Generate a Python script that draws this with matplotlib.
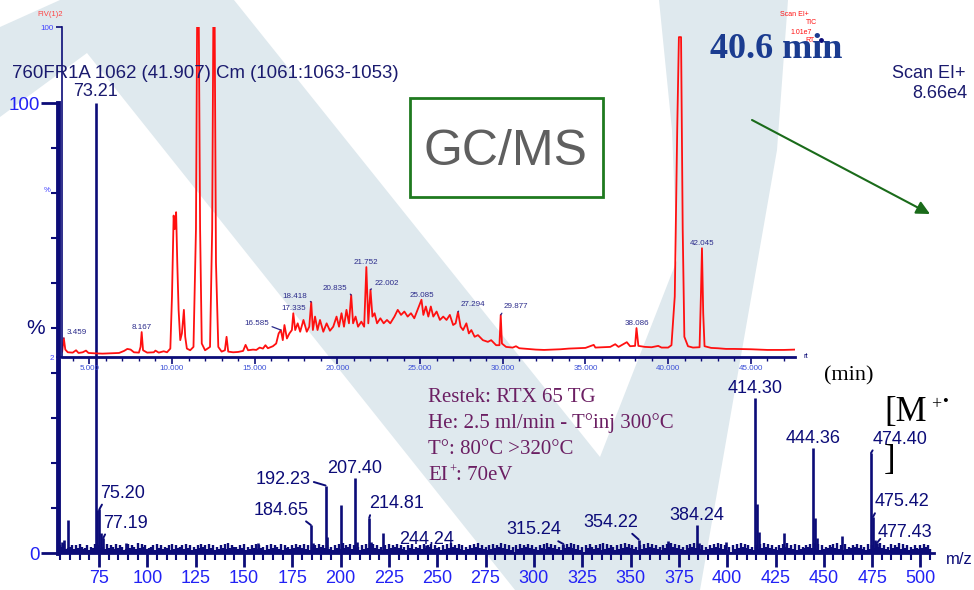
import numpy as np
import matplotlib
matplotlib.use('Agg')
import matplotlib.pyplot as plt
from matplotlib.patches import Polygon, Rectangle, Arc
from matplotlib.ticker import MultipleLocator

plt.rcParams['font.family'] = ['Liberation Sans', 'DejaVu Sans']

# ---------------- data ----------------
# Mass spectrum (scan 1062, 41.907 min)
ms_mz = [56.0, 57.0, 59.1, 73.21, 74.2, 75.20, 76.2, 77.19, 89.0, 157.5,
         184.65, 185.6, 192.23, 193.2, 200.1, 207.40, 208.4, 214.81, 215.8, 222.0,
         244.24, 315.24, 354.22, 369.5, 370.5, 384.24, 385.2, 399.5,
         414.30, 415.30, 416.30, 429.5, 444.36, 445.36, 446.36, 459.4,
         474.40, 475.42, 476.42, 477.43]
ms_int = [2.5, 3.0, 7.3, 100.0, 9.5, 9.7, 4.5, 3.3, 2.2, 2.3,
          6.2, 2.2, 15.0, 3.5, 10.7, 16.7, 2.5, 7.8, 2.5, 4.5,
          1.8, 2.0, 3.0, 2.6, 2.2, 6.2, 2.2, 2.5,
          34.4, 11.0, 4.7, 4.5, 23.3, 7.8, 3.4, 3.7,
          22.2, 8.0, 3.0, 2.2]
ms_label_mz = [75.20, 77.19, 184.65, 192.23, 207.40, 214.81, 244.24, 315.24,
               354.22, 384.24, 414.30, 444.36, 474.40, 475.42, 477.43]
# background noise, one digit per m/z unit starting at m/z 54 (digit * noise_scale %)
noise_start = 54
noise_digits = ("4657345636475346254736453746537465237465384756"
                "3456274635462736456374625364756374625364738465"
                "5364725364736452637465372645364756473625364756"
                "4635264738465736452637485746352637465746352647"
                "3546374657364526374856473625364758463526374658"
                "4736251637465746352647385746352647584736251647"
                "5364728374652637485746352637485746352647385746"
                "3526475847362536475847362516374857463526374857"
                "4635264758463726354657483726354657483627354657"
                "46352736475846352746583746253643647563")
noise_scale = 0.28
ms_xticks = [75, 100, 125, 150, 175, 200, 225, 250, 275, 300, 325, 350, 375,
             400, 425, 450, 475, 500]

# TIC chromatogram (inset)
gc_time = [3.36, 3.459, 3.55, 3.7, 4.0, 4.2, 4.35, 4.6, 4.8, 4.95, 5.3, 5.8, 6.3, 6.8,
           7.1, 7.3, 7.5, 7.7, 8.0, 8.1, 8.167, 8.25, 8.5, 8.9, 9.0, 9.2, 9.5, 9.7,
           9.9, 10.0, 10.1, 10.17, 10.25, 10.32, 10.4, 10.5, 10.6, 10.72, 10.8, 10.9,
           11.1, 11.3, 11.45, 11.52, 11.62, 11.7, 11.8, 12.0, 12.3, 12.43, 12.5, 12.58,
           12.66, 12.8, 13.0, 13.2, 13.3, 13.4, 13.7, 14.0, 14.3, 14.45, 14.6, 14.9,
           15.1, 15.3, 15.5, 15.65, 15.8, 16.1, 16.3, 16.45, 16.585, 16.7, 16.8, 16.95,
           17.1, 17.25, 17.335, 17.45, 17.6, 17.75, 17.95, 18.15, 18.3, 18.418, 18.52,
           18.65, 18.8, 18.95, 19.15, 19.35, 19.55, 19.75, 19.95, 20.1, 20.25, 20.4,
           20.55, 20.7, 20.835, 20.95, 21.1, 21.25, 21.45, 21.62, 21.752, 21.87, 22.002,
           22.12, 22.25, 22.4, 22.6, 22.8, 23.0, 23.2, 23.45, 23.65, 23.85, 24.05, 24.25,
           24.45, 24.65, 24.85, 25.085, 25.2, 25.35, 25.5, 25.65, 25.8, 26.0, 26.2, 26.4,
           26.6, 26.8, 27.0, 27.15, 27.294, 27.45, 27.6, 27.8, 27.95, 28.1, 28.3, 28.5,
           28.8, 29.1, 29.3, 29.6, 29.8, 29.877, 29.95, 30.2, 30.6, 30.8, 31.0, 31.5,
           32.0, 32.5, 33.0, 33.5, 34.0, 34.5, 35.0, 35.5, 35.6, 36.0, 36.5, 36.8, 37.0,
           37.5, 37.7, 38.0, 38.086, 38.2, 38.6, 39.0, 39.4, 39.6, 40.0, 40.2, 40.4,
           40.55, 40.65, 40.78, 40.88, 40.98, 41.2, 41.5, 41.9, 41.98, 42.045, 42.12,
           42.2, 42.6, 43.0, 43.5, 44.0, 45.0, 46.0, 47.0, 47.67]
gc_signal = [3.6, 7.6, 4.2, 3.4, 3.3, 4.0, 3.2, 3.4, 3.9, 3.2, 3.1, 3.0, 3.1, 3.2,
             3.8, 4.4, 4.2, 3.4, 3.3, 5.0, 9.4, 4.0, 3.3, 3.4, 3.9, 3.3, 3.7, 3.4,
             4.5, 20, 44, 40, 45, 30, 16, 7, 9, 16, 8, 4.5,
             4.0, 5.0, 40, 102, 102, 40, 6, 4.0, 5.0, 40, 102, 102,
             30, 5, 3.6, 4, 8, 3.6, 3.4, 3.5, 3.8, 5.6, 4.0, 4.2,
             4.1, 4.8, 4.5, 5.5, 4.6, 5.2, 6.0, 9, 10, 7, 11.5, 7.5,
             9, 10, 15.0, 10, 12, 9.5, 13, 9.5, 11, 18.3, 10,
             14, 10, 13, 9.5, 12, 9.8, 11, 14, 11, 15, 11,
             16, 12, 20.4, 12, 14, 11, 12.5, 11, 28.7, 12, 22,
             14, 15, 12, 13.5, 12, 13, 12, 14, 16, 14.5, 15.5, 14,
             15, 13.5, 16, 19, 14.5, 17, 14, 17, 14, 15.5, 13, 14,
             13, 14.5, 11.5, 12, 15.4, 11, 10, 12, 9, 10, 8, 8.5,
             7, 6.5, 7, 5.5, 5.5, 14.5, 6, 5, 4.8, 5.2, 4.6, 4.4,
             4.2, 4.1, 4.2, 4.3, 4.5, 4.6, 4.7, 5.6, 4.8, 4.9, 5.0, 5.8, 5.0,
             6.4, 5.2, 5.3, 10.6, 5.3, 5.0, 4.9, 5.3, 4.8, 4.8, 5.5, 20,
             70, 97, 97, 40, 8, 5.2, 4.8, 4.9, 20, 34.3, 15,
             5.2, 4.7, 4.6, 4.4, 4.4, 4.3, 4.1, 4.1, 4.2]
gc_label_t = [3.459, 8.167, 16.585, 17.335, 18.418, 20.835, 21.752, 22.002,
              25.085, 27.294, 29.877, 38.086, 42.045]
gc_xticks = [5, 10, 15, 20, 25, 30, 35, 40, 45]

# ---------------- styling ----------------
W, H = 974, 590
NAVY = '#0c0c78'
BLUE = '#2222f5'
RED = '#ff1010'
fig = plt.figure(figsize=(W / 100, H / 100), dpi=100)

# background watermark
bg = fig.add_axes([0, 0, 1, 1], zorder=0)
bg.set_xlim(0, W); bg.set_ylim(H, 0); bg.axis('off')
wm = [(0, 27), (60, 0), (234, 0), (600, 457), (677, 260), (672, 130), (659, 0),
      (788, 0), (777, 150), (700, 590), (515, 590), (87, 53), (0, 117)]
bg.add_patch(Polygon(wm, closed=True, facecolor='#dfe9ee', edgecolor='none'))
bg.add_patch(Arc((411.5, -10), 44, 46, theta1=180, theta2=360,
                 color='#ff00ff', lw=2.2))

# ---------------- mass spectrum ----------------
ax = fig.add_axes([58 / W, 1 - 553 / H, (934 - 58) / W, (553 - 103) / H], zorder=1)
ax.patch.set_alpha(0)
ax.set_xlim(53.8, 507)
ax.set_ylim(0, 100)
noise_vals = np.array([int(c) for c in noise_digits]) * noise_scale
noise_mz = noise_start + np.arange(len(noise_vals))
ax.vlines(noise_mz, 0, noise_vals, color=NAVY, lw=1.7)
ax.vlines(ms_mz, 0, ms_int, color=NAVY, lw=1.9)
for s in ['top', 'right']:
    ax.spines[s].set_visible(False)
ax.spines['left'].set_linewidth(3.5)
ax.spines['left'].set_color(NAVY)
ax.spines['left'].set_bounds(0, 100)
ax.spines['bottom'].set_linewidth(2)
ax.spines['bottom'].set_color(NAVY)
ax.set_xticks(ms_xticks)
ax.set_xticklabels([str(v) for v in ms_xticks])
ax.xaxis.set_minor_locator(MultipleLocator(5))
ax.set_yticks([0, 100])
ax.set_yticklabels(['0', '100'])
ax.yaxis.set_minor_locator(MultipleLocator(10))
ax.tick_params(axis='x', which='major', length=10, width=2, color=NAVY,
               labelsize=13, labelcolor=BLUE, pad=2)
ax.tick_params(axis='x', which='minor', length=5, width=1.5, color=NAVY)
ax.tick_params(axis='y', which='major', length=12, width=2, color=NAVY,
               labelsize=13.5, labelcolor=BLUE, pad=1)
ax.tick_params(axis='y', which='minor', length=5, width=1.5, color=NAVY)

ms_label_style = {
    75.20: (23, 16, (0.1, 0.1)), 77.19: (22, 15, (0.1, 0.1)),
    184.65: (-30, 15, (0.85, 0.1)), 192.23: (-42, 6, (1.0, 0.4)),
    207.40: None, 214.81: (27, 14, (0.05, 0.1)), 244.24: (0, 5, 'no'),
    315.24: (-30, 14, (0.8, 0.1)), 354.22: (-28, 17, (0.8, 0.1)),
    384.24: None, 414.30: None, 444.36: None,
    474.40: (29, 14, (0.05, 0.1)), 475.42: (29, 15, (0.05, 0.1)),
    477.43: (28, 11, (0.05, 0.1)),
}
for mz in ms_label_mz:
    h = ms_int[ms_mz.index(mz)]
    lab = f"{mz:.2f}"
    st = ms_label_style[mz]
    if st is None:
        ax.annotate(lab, xy=(mz, h), xytext=(0, 1), textcoords='offset pixels',
                    ha='center', va='bottom', fontsize=13, color=NAVY,
                    annotation_clip=False)
    else:
        dx, dy, rel = st
        ap = None if rel == 'no' else dict(arrowstyle='-', color=NAVY, lw=1.4,
                                           shrinkA=0, shrinkB=0, relpos=rel)
        ax.annotate(lab, xy=(mz, h), xytext=(dx, dy), textcoords='offset pixels',
                    ha='center', va='center', fontsize=13, color=NAVY,
                    arrowprops=ap, annotation_clip=False)

# ---------------- TIC inset ----------------
gx = fig.add_axes([62 / W, 1 - 357 / H, (795 - 62) / W, (357 - 27) / H], zorder=2)
gx.patch.set_alpha(0)
gx.plot(gc_time, gc_signal, color=RED, lw=1.3)
gx.set_xlim(3.35, 47.67)
gx.set_ylim(2, 100)
for s in ['top', 'right']:
    gx.spines[s].set_visible(False)
gx.spines['left'].set_linewidth(1.2)
gx.spines['left'].set_color(NAVY)
gx.spines['bottom'].set_linewidth(2)
gx.spines['bottom'].set_color(NAVY)
gx.set_xticks(gc_xticks)
gx.set_xticklabels([f"{v:.3f}" for v in gc_xticks])
gx.xaxis.set_minor_locator(MultipleLocator(1))
gx.set_yticks([2, 100])
gx.set_yticklabels(['2', '100'])
gx.tick_params(axis='x', which='major', length=5, width=1.2, color=NAVY,
               labelsize=5.8, labelcolor='#3a4fd6', pad=1)
gx.tick_params(axis='x', which='minor', length=3, width=1, color=NAVY)
gx.tick_params(axis='y', which='major', length=4, width=1.2, color=NAVY,
               labelsize=5.8, labelcolor='#4040ff', pad=2)

gc_label_style = {
    3.459: (13, 6, (0.1, 0.1)), 8.167: None, 16.585: (-24, 7, (0.95, 0.2)),
    17.335: None, 18.418: (-16, 6, (0.95, 0.2)), 20.835: (-16, 7, (0.95, 0.2)),
    21.752: None, 22.002: (16, 6, (0.05, 0.2)), 25.085: None,
    27.294: (15, 7, (0.05, 0.2)), 29.877: (15, 8, (0.05, 0.2)),
    38.086: None, 42.045: None,
}
for t in gc_label_t:
    h = gc_signal[gc_time.index(t)]
    lab = f"{t:.3f}"
    st = gc_label_style[t]
    if st is None:
        gx.annotate(lab, xy=(t, h), xytext=(0, 1), textcoords='offset pixels',
                    ha='center', va='bottom', fontsize=5.8, color='#2a2a8a')
    else:
        dx, dy, rel = st
        gx.annotate(lab, xy=(t, h), xytext=(dx, dy), textcoords='offset pixels',
                    ha='center', va='center', fontsize=5.8, color='#2a2a8a',
                    arrowprops=dict(arrowstyle='-', color='#2a2a8a', lw=0.9,
                                    shrinkA=0, shrinkB=0, relpos=rel))

# ---------------- overlay annotations (pixel coordinates) ----------------
fg = fig.add_axes([0, 0, 1, 1], zorder=5)
fg.set_xlim(0, W); fg.set_ylim(H, 0); fg.axis('off')
fg.patch.set_alpha(0)

fg.text(50, 14, "FIV(1)2", color='#ff4040', fontsize=5.5, ha='center', va='center')
fg.text(50, 191, "%", color='#4040ff', fontsize=5.5, ha='right', va='center')
fg.text(803, 357, "rt", color=NAVY, fontsize=5.5, ha='left', va='center')
fg.text(12, 74, "760FR1A 1062 (41.907) Cm (1061:1063-1053)", color='#1a1a6e',
        fontsize=13.4, ha='left', va='center')
fg.text(96, 92, "73.21", color='#1a1a6e', fontsize=13, ha='center', va='center')
fg.text(45, 328, "%", color=NAVY, fontsize=15, ha='right', va='center')
fg.text(946, 560, "m/z", color=NAVY, fontsize=12, ha='left', va='center')

# red header of TIC
fg.text(809, 14, "Scan EI+", color=RED, fontsize=5, ha='right', va='center')
fg.text(817, 23, "TIC", color=RED, fontsize=5, ha='right', va='center')
fg.text(812, 32, "1.01e7", color=RED, fontsize=5, ha='right', va='center')
fg.text(815, 41, "RT", color=RED, fontsize=5, ha='right', va='center')
fg.plot([821], [40], 'o', color=NAVY, ms=2.5)

fg.text(776, 50, "40.6 min", color='#1b3c90', fontsize=26, fontweight='bold',
        family='Liberation Serif', ha='center', va='center')
fg.text(965, 74, "Scan EI+", color='#1a1a6e', fontsize=13, ha='right', va='center')
fg.text(967, 93, "8.66e4", color='#1a1a6e', fontsize=13, ha='right', va='center')

# GC/MS box
fg.add_patch(Rectangle((410, 98), 193, 99, facecolor='none', edgecolor='#1f7a1f', lw=2))
fg.text(505, 152, "GC/MS", color='#5f5f5f', fontsize=36, ha='center', va='center')

# arrow
fg.annotate("", xy=(930, 214), xytext=(752, 120),
            arrowprops=dict(arrowstyle='-|>', color='#1a6b1a', lw=1.5,
                            mutation_scale=20, shrinkA=0, shrinkB=0))

# conditions
PURPLE = '#6b1f63'
cond = ["Restek: RTX 65 TG", "He: 2.5 ml/min - T°inj 300°C", "T°: 80°C >320°C"]
for i, line in enumerate(cond):
    fg.text(428, 397 + 26.5 * i, line, color=PURPLE, fontsize=15,
            family='Liberation Serif', ha='left', va='center')
fg.text(428, 476, "EI", color=PURPLE, fontsize=15, family='Liberation Serif',
        ha='left', va='center')
fg.text(449, 470, "+", color=PURPLE, fontsize=9, family='Liberation Serif',
        ha='left', va='center')
fg.text(456, 476, ": 70eV", color=PURPLE, fontsize=15, family='Liberation Serif',
        ha='left', va='center')

fg.text(849, 376, "(min)", color='black', fontsize=16, family='Liberation Serif',
        ha='center', va='center')
fg.text(884, 413, "[M", color='black', fontsize=25, family='Liberation Serif',
        ha='left', va='center')
fg.text(931, 405, "+", color='black', fontsize=13, family='Liberation Serif',
        ha='left', va='center')
fg.text(942, 402, "\u2022", color='black', fontsize=12, family=['Liberation Serif', 'DejaVu Sans'],
        ha='left', va='center')
fg.text(884, 461, "]", color='black', fontsize=25, family='Liberation Serif',
        ha='left', va='center')

fig.savefig('out.png', dpi=100)
